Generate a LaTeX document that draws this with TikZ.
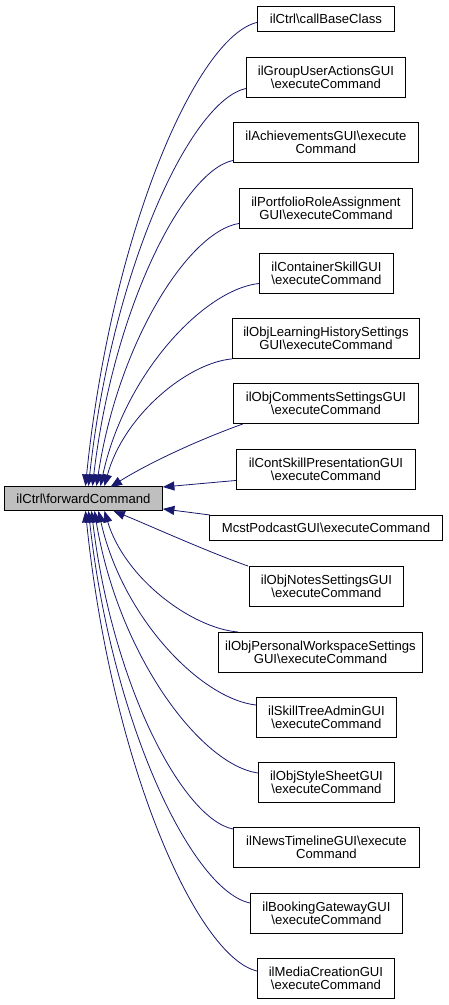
\documentclass[tikz,border=0pt]{standalone}
\usepackage{fontspec}
\setmainfont{Liberation Sans}
\usetikzlibrary{arrows.meta}
\definecolor{navy}{HTML}{191970}
\definecolor{mainfill}{HTML}{BFBFBF}
\newcommand{\bs}{\textbackslash}
\begin{document}
\begin{tikzpicture}[x=1pt,y=-1pt,
  box/.style={draw=black, line width=0.9pt, fill=white, inner sep=0pt, align=center,
    font=\fontsize{13.1}{13.6}\selectfont, anchor=north west},
  conn/.style={draw=navy, line width=0.8pt, -{Triangle[length=11.5pt,width=9pt]}}]
\useasboundingbox (0,0) rectangle (448,1005);
\fill[white] (0,0) rectangle (448,1005);
% main
\node[box, fill=mainfill, minimum width=158pt, minimum height=24pt] (main) at (4,486) {ilCtrl\bs forwardCommand};
% callers
\node[box, minimum width=137pt, minimum height=25pt] (n1) at (257,6) {ilCtrl\bs callBaseClass};
\node[box, minimum width=159pt, minimum height=40pt] (n2) at (246,57) {ilGroupUserActionsGUI\\\bs executeCommand};
\node[box, minimum width=185pt, minimum height=40pt] (n3) at (233,122) {ilAchievementsGUI\bs execute\\Command};
\node[box, minimum width=173pt, minimum height=40pt] (n4) at (239,188) {ilPortfolioRoleAssignment\\GUI\bs executeCommand};
\node[box, minimum width=134pt, minimum height=40pt] (n5) at (259,253) {ilContainerSkillGUI\\\bs executeCommand};
\node[box, minimum width=187pt, minimum height=40pt] (n6) at (232,318) {ilObjLearningHistorySettings\\GUI\bs executeCommand};
\node[box, minimum width=185pt, minimum height=40pt] (n7) at (233,383) {ilObjCommentsSettingsGUI\\\bs executeCommand};
\node[box, minimum width=179pt, minimum height=40pt] (n8) at (236,449) {ilContSkillPresentationGUI\\\bs executeCommand};
\node[box, minimum width=233pt, minimum height=25pt] (n9) at (209,515) {McstPodcastGUI\bs executeCommand};
\node[box, minimum width=154pt, minimum height=40pt] (n10) at (249,566) {ilObjNotesSettingsGUI\\\bs executeCommand};
\node[box, minimum width=204pt, minimum height=40pt] (n11) at (218,632) {ilObjPersonalWorkspaceSettings\\GUI\bs executeCommand};
\node[box, minimum width=140pt, minimum height=40pt] (n12) at (256,697) {ilSkillTreeAdminGUI\\\bs executeCommand};
\node[box, minimum width=136pt, minimum height=40pt] (n13) at (258,762) {ilObjStyleSheetGUI\\\bs executeCommand};
\node[box, minimum width=186pt, minimum height=40pt] (n14) at (233,827) {ilNewsTimelineGUI\bs execute\\Command};
\node[box, minimum width=152pt, minimum height=40pt] (n15) at (250,893) {ilBookingGatewayGUI\\\bs executeCommand};
\node[box, minimum width=137pt, minimum height=40pt] (n16) at (257,958) {ilMediaCreationGUI\\\bs executeCommand};
% connectors
\draw[conn] ([yshift=-3.5pt]n1.west) .. controls +(-60,14) and +(26,-255) .. ([xshift=2pt]main.north);
\draw[conn] ([yshift=-11pt]n2.west) .. controls +(-55,12) and +(24,-219) .. ([xshift=5pt]main.north);
\draw[conn] ([yshift=-18pt]n3.west) .. controls +(-49,10) and +(21,-179) .. ([xshift=9pt]main.north);
\draw[conn] ([yshift=-15pt]n4.west) .. controls +(-50,8) and +(22,-145) .. ([xshift=13pt]main.north);
\draw[conn] ([yshift=-10pt]n5.west) .. controls +(-55,6) and +(24,-112) .. ([xshift=17pt]main.north);
\draw[conn] (n6.south west) .. controls +(-45,4) and +(19,-70) .. ([xshift=21pt]main.north);
\draw[conn] ([xshift=10pt]n7.south west) .. controls +(-50,18) and +(35,-22) .. ([xshift=27pt,yshift=-1pt]main.north);
\draw[conn] ([yshift=-11pt]n8.west) -- ([yshift=-1pt]main.north east);
\draw[conn] ([xshift=1pt]n9.north west) -- ([yshift=2pt]main.south east);
\draw[conn] ([xshift=-1pt]n10.north west) .. controls +(-40,-14) and +(30,12) .. ([xshift=30pt]main.south);
\draw[conn] ([xshift=20pt]n11.north west) .. controls +(-47,-4) and +(20,67) .. ([xshift=21pt]main.south);
\draw[conn] ([yshift=-8pt]n12.north west) .. controls +(-55,-6) and +(24,107) .. ([xshift=15pt]main.south);
\draw[conn] ([yshift=-11pt]n13.north west) .. controls +(-57,-8) and +(24,145) .. ([xshift=11pt]main.south);
\draw[conn] ([yshift=-2pt]n14.north west) .. controls +(-50,-10) and +(21,175) .. ([xshift=8pt]main.south);
\draw[conn] ([yshift=-10pt]n15.north west) .. controls +(-57,-12) and +(24,216) .. ([xshift=5pt]main.south);
\draw[conn] ([yshift=-13pt]n16.north west) .. controls +(-60,-14) and +(26,254) .. ([xshift=2pt]main.south);
\end{tikzpicture}
\end{document}
